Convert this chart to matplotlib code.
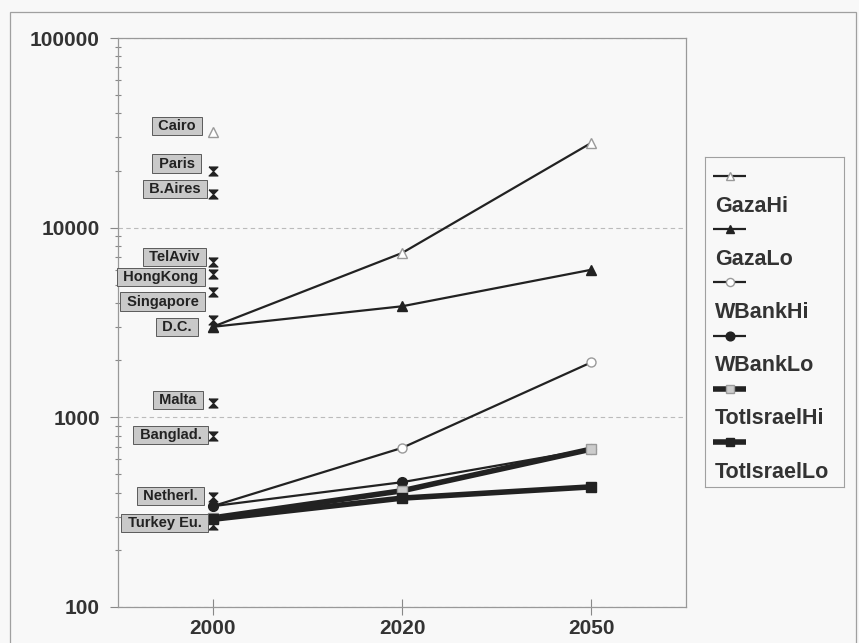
import matplotlib
matplotlib.use("Agg")
import matplotlib.pyplot as plt
from matplotlib.path import Path
from matplotlib.patches import Rectangle
from matplotlib.lines import Line2D
from matplotlib.ticker import FixedLocator, FuncFormatter, LogLocator, NullFormatter

# ---- data -------------------------------------------------------------
years = ["2000", "2020", "2050"]

series_names = ["GazaHi", "GazaLo", "WBankHi", "WBankLo", "TotIsraelHi", "TotIsraelLo"]
gaza_hi = [3000, 7350, 28000]
gaza_lo = [3000, 3850, 6000]
wbank_hi = [340, 690, 1950]
wbank_lo = [340, 455, 680]
totisrael_hi = [295, 410, 680]
totisrael_lo = [290, 375, 430]
series_values = [gaza_hi, gaza_lo, wbank_hi, wbank_lo, totisrael_hi, totisrael_lo]

# reference densities for comparison, all plotted at the year 2000
cities = ["Cairo", "Paris", "B.Aires", "TelAviv", "HongKong", "Singapore",
          "D.C.", "Malta", "Banglad.", "Netherl.", "Turkey Eu."]
city_density = [32000, 20000, 15000, 6600, 5700, 4600, 3250, 1190, 800, 380, 270]

# ---- styles -----------------------------------------------------------
DARK = "#222222"
OPEN_EDGE = "#9a9a9a"
series_styles = [
    dict(marker="^", ms=7, mfc="white", mec=OPEN_EDGE, lw=1.6),
    dict(marker="^", ms=7, mfc=DARK, mec=DARK, lw=1.6),
    dict(marker="o", ms=6.5, mfc="white", mec=OPEN_EDGE, lw=1.6),
    dict(marker="o", ms=7, mfc=DARK, mec=DARK, lw=1.6),
    dict(marker="s", ms=6.5, mfc="#cccccc", mec=OPEN_EDGE, lw=4.0),
    dict(marker="s", ms=6.5, mfc=DARK, mec=DARK, lw=4.0),
]

hourglass = Path([(-1, 1), (1, 1), (0, 0), (1, -1), (-1, -1), (0, 0), (-1, 1)])
city_markers = ["^"] + [hourglass] * (len(cities) - 1)

# label box offsets (pixels) relative to each city marker: (dx of right edge, dy)
label_offsets = [(-10, 6), (-11, 7), (-5, 5), (-6, 5), (-7, -3), (-7, -10),
                 (-14, -7), (-9, 3), (-4, 1), (-8, 1), (-4, 2)]

plt.rcParams["font.family"] = ["Liberation Sans", "DejaVu Sans"]
TEXT = "#333333"

W, H = 859, 643
fig = plt.figure(figsize=(W / 100, H / 100), dpi=100)
fig.patch.set_facecolor("#f8f8f8")

# outer chart frame
fig.patches.append(Rectangle((10 / W, -0.02), 846 / W, (H - 12) / H + 0.02,
                             transform=fig.transFigure, fill=False,
                             edgecolor="#a0a0a0", lw=0.9))

ax = fig.add_axes([118 / W, 1 - 607 / H, 568 / W, 569 / H])
ax.set_facecolor("#f8f8f8")
ax.set_yscale("log")
ax.set_ylim(100, 100000)
ax.set_xlim(-0.5, 2.5)

x = list(range(len(years)))

for vals, st in zip(series_values, series_styles):
    ax.plot(x, vals, color=DARK, solid_capstyle="butt", zorder=3,
            markeredgewidth=1.0, **st)

for i, (name, val, mk, (dx, dy)) in enumerate(zip(cities, city_density, city_markers, label_offsets)):
    if mk == "^":
        ax.plot([0], [val], linestyle="none", marker="^", ms=7, mfc="white",
                mec=OPEN_EDGE, mew=1.0, zorder=4)
    else:
        ax.plot([0], [val], linestyle="none", marker=mk, ms=6.5, mfc=DARK,
                mec=DARK, mew=0.8, zorder=4)
    ax.annotate(" " + name + " ", xy=(0, val), xytext=(dx - 3, dy),
                textcoords="offset pixels", ha="right", va="center",
                fontsize=10.5, fontweight="bold", color=DARK, zorder=5,
                bbox=dict(boxstyle="square,pad=0.15", fc="#c9c9c9",
                          ec="#5a5a5a", lw=0.7))

# axes, ticks, grid
for side in ["top", "right", "bottom", "left"]:
    ax.spines[side].set_color("#999999")
    ax.spines[side].set_linewidth(0.9)

ax.yaxis.set_major_locator(FixedLocator([100, 1000, 10000, 100000]))
ax.yaxis.set_major_formatter(FuncFormatter(lambda v, p: f"{int(round(v))}"))
ax.yaxis.set_minor_locator(LogLocator(base=10, subs=range(2, 10)))
ax.yaxis.set_minor_formatter(NullFormatter())
ax.tick_params(axis="y", which="major", direction="out", length=6, width=0.8,
               color="#888888", pad=7, labelsize=15, labelcolor=TEXT)
ax.tick_params(axis="y", which="minor", direction="inout", length=5, width=0.8,
               color="#888888")
for lab in ax.get_yticklabels():
    lab.set_fontweight("bold")

ax.set_xticks(x)
ax.set_xticklabels(years, fontsize=15, fontweight="bold", color=TEXT)
ax.tick_params(axis="x", which="major", direction="inout", length=12, width=0.8,
               color="#888888", pad=3)

ax.yaxis.grid(True, which="major", linestyle=(0, (4, 3)), color="#bbbbbb", lw=0.8)
ax.set_axisbelow(True)

# legend: marker sample on one row, series name on the row below
lax = fig.add_axes([705 / W, 1 - 487 / H, 139 / W, 330 / H])
lax.set_xlim(0, 139)
lax.set_ylim(330, 0)
lax.set_xticks([])
lax.set_yticks([])
lax.set_facecolor("#f8f8f8")
for sp in lax.spines.values():
    sp.set_color("#a0a0a0")
    sp.set_linewidth(0.8)

row0, row_step = 19, 53.2
for k, (name, st) in enumerate(zip(series_names, series_styles)):
    yk = row0 + k * row_step
    lax.add_line(Line2D([8, 41], [yk, yk], color=DARK, solid_capstyle="butt",
                        lw=st["lw"]))
    lax.add_line(Line2D([24.5], [yk], linestyle="none", markeredgewidth=1.0,
                        marker=st["marker"], ms=st["ms"] * 0.9, mfc=st["mfc"],
                        mec=st["mec"]))
    lax.text(10, yk + 30, name, fontsize=15.5, fontweight="bold", color=TEXT,
             va="center", ha="left")

fig.savefig("out.png", dpi=100, facecolor=fig.get_facecolor())
